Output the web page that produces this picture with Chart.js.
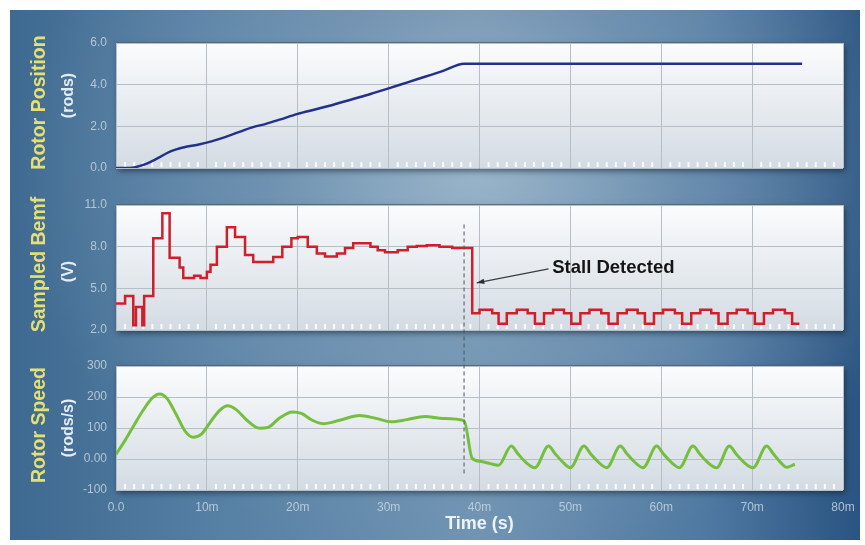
<!DOCTYPE html>
<html>
<head>
<meta charset="utf-8">
<script src="https://cdn.jsdelivr.net/npm/chart.js@4.4.0/dist/chart.umd.min.js"></script>
<style>
    html, body { margin: 0; padding: 0; background: #ffffff; }
    #wrap { position: relative; width: 865px; height: 545px; overflow: hidden; }
    #frame {
        position: absolute; left: 10px; top: 10px; width: 850px; height: 530px;
        background:
            radial-gradient(ellipse 55% 75% at 55% 30%, rgba(160,186,205,0.85) 0%, rgba(130,160,186,0.5) 45%, rgba(90,125,160,0) 100%),
            linear-gradient(90deg, #3e6990 0%, #5680a4 25%, #6f93b2 55%, #4f79a1 82%, #2a5481 100%);
    }
    canvas { position: absolute; left: 0; top: 0; }
</style>
</head>
<body>
<div id="wrap">
    <div id="frame"></div>
    <canvas id="posChart" width="865" height="545"></canvas>
    <canvas id="speedChart" width="865" height="545"></canvas>
    <canvas id="bemfChart" width="865" height="545"></canvas>
</div>
<script>
// 데이터
const timeTicks = [0, 10, 20, 30, 40, 50, 60, 70, 80];

const posTime  = [0, 1.5, 3, 4.5, 6, 7.5, 9, 10.5, 12, 13.5, 15, 16.5, 18, 20, 22, 24, 26, 28, 30, 32, 34, 36, 38.3, 75.5];
const posValue = [0, 0, 0.15, 0.45, 0.8, 1.0, 1.12, 1.28, 1.48, 1.72, 1.95, 2.12, 2.32, 2.6, 2.82, 3.05, 3.3, 3.55, 3.82, 4.1, 4.38, 4.66, 5.0, 5.0];
const posTicks = [0, 2, 4, 6];

const bemfTime  = [0, 1.0, 1.9, 2.2, 2.9, 3.1, 4.1, 5.1, 5.9, 7.0, 7.4, 8.6, 9.3, 10.0, 10.4, 11.1, 12.2, 13.1, 14.2, 15.1,
                   17.3, 18.3, 19.3, 20.0, 21.1, 22.1, 23.0, 24.3, 25.2, 26.1, 28.0, 28.8, 29.6, 31.0, 32.1, 33.1, 34.2, 35.6, 37.0,
                   39.2, 40.0, 41.4, 42.1, 43.0, 44.1, 45.3, 46.1, 47.1, 48.1, 49.3, 50.1, 51.1, 52.1, 53.4, 54.2, 55.2, 56.2, 57.4,
                   58.2, 59.2, 60.2, 61.5, 62.3, 63.3, 64.3, 65.5, 66.3, 67.3, 68.3, 69.5, 70.3, 71.3, 72.3, 73.6, 74.4, 75.2];
const bemfValue = [3.9, 4.45, 2.35, 3.65, 2.35, 4.45, 8.6, 10.4, 7.2, 6.5, 5.75, 5.9, 5.75, 6.2, 6.7, 8.0, 9.4, 8.7, 7.4, 6.9,
                   7.25, 8.0, 8.6, 8.7, 8.0, 7.5, 7.3, 7.5, 7.9, 8.25, 8.0, 7.75, 7.6, 7.75, 8.0, 8.05, 8.1, 8.0, 7.9,
                   3.2, 3.45, 3.2, 2.45, 3.2, 3.45, 3.2, 2.45, 3.2, 3.45, 3.2, 2.45, 3.2, 3.45, 3.2, 2.45, 3.2, 3.45, 3.2,
                   2.45, 3.2, 3.45, 3.2, 2.45, 3.2, 3.45, 3.2, 2.45, 3.2, 3.45, 3.2, 2.45, 3.2, 3.45, 3.2, 2.45, 2.45];
const bemfTicks = [2, 5, 8, 11];

const speedTime  = [0, 1, 2, 3, 4, 4.8, 5.6, 6.6, 7.6, 8.5, 9.4, 10.4, 11.4, 12.3, 13.2, 14.4, 15.8, 16.8, 18, 19.4,
                    20.4, 21.6, 22.8, 24.6, 26.8, 28.6, 30.3, 32, 34, 36, 38.3, 39.2, 40.2, 41.2, 42.1,
                    43.5, 44.2, 45, 46.1, 47.6, 48.3, 49.1, 50, 51.5, 52.2, 53, 54, 55.5, 56.2, 57, 58,
                    59.5, 60.2, 61, 62, 63.5, 64.2, 65, 66.1, 67.5, 68.2, 69, 70.1, 71.6, 72.3, 73.1, 73.8, 74.7];
const speedValue = [15, 60, 110, 158, 197, 210, 196, 145, 90, 70, 80, 120, 157, 172, 160, 125, 99, 103, 132, 152,
                    147, 125, 114, 125, 140, 131, 120, 127, 137, 131, 124, 2, -8, -15, -20,
                    42, 18, -8, -28, 42, 18, -8, -28, 42, 18, -8, -28, 42, 18, -8, -28,
                    42, 18, -8, -28, 42, 18, -8, -28, 42, 18, -8, -28, 42, 18, -10, -27, -17];
const speedTicks = [-100, 0, 100, 200, 300];

// 정지 검출 표시
const stallTime = 38.3;
const stallLabel = 'Stall Detected';
const stallLabelAt = { x: 48.0, y: 6.46 };
const stallArrowFrom = { x: 47.6, y: 6.4 };
const stallArrowTo = { x: 39.7, y: 5.4 };
const stallLineTop = 9.6;     // bemf 축 값
const stallLineBottom = -55;  // speed 축 값

const FONT = "'Liberation Sans', Arial, sans-serif";
const tickColor = 'rgba(205,217,229,0.8)';
const gridColor = '#b6bec6';

const toPoints = (xs, ys) => xs.map((x, i) => ({ x: x, y: ys[i] }));

const plotBg = {
    id: 'plotBg',
    beforeDraw(chart) {
        const { ctx, chartArea: a } = chart;
        ctx.save();
        ctx.shadowColor = 'rgba(10,25,45,0.6)';
        ctx.shadowBlur = 6;
        ctx.shadowOffsetX = 2;
        ctx.shadowOffsetY = 3;
        const g = ctx.createLinearGradient(0, a.top, 0, a.bottom);
        g.addColorStop(0, '#fbfcfd');
        g.addColorStop(0.45, '#e9edf1');
        g.addColorStop(1, '#d3dbe3');
        ctx.fillStyle = g;
        ctx.fillRect(a.left, a.top, a.right - a.left, a.bottom - a.top);
        ctx.restore();
        ctx.save();
        ctx.strokeStyle = '#56616c';
        ctx.lineWidth = 1.5;
        ctx.beginPath();
        ctx.moveTo(a.left, a.top);
        ctx.lineTo(a.right, a.top);
        ctx.stroke();
        ctx.restore();
    },
    beforeDatasetsDraw(chart) {
        // 아래쪽 보조 눈금
        const { ctx, chartArea: a, scales: { x } } = chart;
        ctx.save();
        ctx.strokeStyle = 'rgba(255,255,255,0.9)';
        ctx.lineWidth = 2;
        for (let t = 1; t < 80; t++) {
            if (t % 10 === 0) continue;
            const px = x.getPixelForValue(t);
            ctx.beginPath();
            ctx.moveTo(px, a.bottom - 1);
            ctx.lineTo(px, a.bottom - 6);
            ctx.stroke();
        }
        ctx.restore();
    }
};

const panelTitle = {
    id: 'panelTitle',
    afterDraw(chart, args, opts) {
        const { ctx, chartArea: a } = chart;
        const cy = (a.top + a.bottom) / 2;
        ctx.save();
        ctx.textAlign = 'center';
        ctx.textBaseline = 'middle';
        ctx.translate(40, cy - 3);
        ctx.rotate(-Math.PI / 2);
        ctx.fillStyle = '#e6df72';
        ctx.font = `bold 19.5px ${FONT}`;
        ctx.fillText(opts.main, 0, 0);
        ctx.restore();
        ctx.save();
        ctx.textAlign = 'center';
        ctx.textBaseline = 'middle';
        ctx.translate(69, cy + (opts.unitShift || 0));
        ctx.rotate(-Math.PI / 2);
        ctx.fillStyle = '#e4ecf3';
        ctx.font = `bold 16px ${FONT}`;
        ctx.fillText(opts.unit, 0, 0);
        ctx.restore();
    }
};

let speedChart = null;

const stallMarker = {
    id: 'stallMarker',
    afterDraw(chart) {
        const { ctx, scales: { x, y } } = chart;
        const px = x.getPixelForValue(stallTime);
        const top = y.getPixelForValue(stallLineTop);
        const bottom = speedChart ? speedChart.scales.y.getPixelForValue(stallLineBottom) : chart.chartArea.bottom;
        ctx.save();
        ctx.strokeStyle = '#4b5560';
        ctx.lineWidth = 1;
        ctx.setLineDash([4, 3]);
        ctx.beginPath();
        ctx.moveTo(px, top);
        ctx.lineTo(px, bottom);
        ctx.stroke();
        ctx.setLineDash([]);

        // 화살표
        const x1 = x.getPixelForValue(stallArrowFrom.x), y1 = y.getPixelForValue(stallArrowFrom.y);
        const x2 = x.getPixelForValue(stallArrowTo.x), y2 = y.getPixelForValue(stallArrowTo.y);
        ctx.strokeStyle = '#3a3f45';
        ctx.lineWidth = 1.3;
        ctx.beginPath();
        ctx.moveTo(x1, y1);
        ctx.lineTo(x2, y2);
        ctx.stroke();
        const ang = Math.atan2(y2 - y1, x2 - x1);
        ctx.fillStyle = '#2c3035';
        ctx.beginPath();
        ctx.moveTo(x2, y2);
        ctx.lineTo(x2 - 8 * Math.cos(ang - 0.35), y2 - 8 * Math.sin(ang - 0.35));
        ctx.lineTo(x2 - 8 * Math.cos(ang + 0.35), y2 - 8 * Math.sin(ang + 0.35));
        ctx.closePath();
        ctx.fill();

        ctx.fillStyle = '#151515';
        ctx.font = `bold 18.5px ${FONT}`;
        ctx.textAlign = 'left';
        ctx.textBaseline = 'middle';
        ctx.fillText(stallLabel, x.getPixelForValue(stallLabelAt.x), y.getPixelForValue(stallLabelAt.y));
        ctx.restore();
    }
};

function makeChart(canvasId, cfg) {
    const ctx = document.getElementById(canvasId).getContext('2d');
    return new Chart(ctx, {
        type: 'line',
        data: {
            datasets: [{
                data: toPoints(cfg.xs, cfg.ys),
                borderColor: cfg.color,
                borderWidth: cfg.width,
                pointRadius: 0,
                fill: false,
                stepped: cfg.stepped || false,
                cubicInterpolationMode: cfg.stepped ? 'default' : 'monotone'
            }]
        },
        options: {
            responsive: false,
            animation: false,
            events: [],
            layout: { padding: { left: 0, right: 22, top: cfg.top, bottom: cfg.bottom } },
            plugins: {
                legend: { display: false },
                tooltip: { enabled: false },
                panelTitle: { main: cfg.title, unit: cfg.unit, unitShift: cfg.unitShift }
            },
            scales: {
                x: {
                    type: 'linear',
                    min: 0, max: 80,
                    afterBuildTicks: s => { s.ticks = timeTicks.map(v => ({ value: v })); },
                    afterFit: s => { s.height = cfg.showX ? 55 : 0; },
                    grid: { color: gridColor, drawTicks: false },
                    border: { display: false },
                    ticks: {
                        display: !!cfg.showX,
                        padding: 10,
                        color: tickColor,
                        font: { family: FONT, size: 12 },
                        maxRotation: 0,
                        callback: v => v === 0 ? '0.0' : v + 'm'
                    },
                    title: {
                        display: !!cfg.showX,
                        text: 'Time (s)',
                        color: '#eef3f7',
                        font: { family: FONT, size: 18, weight: 'bold' },
                        padding: { top: 0, bottom: 10 }
                    }
                },
                y: {
                    type: 'linear',
                    min: cfg.yTicks[0], max: cfg.yTicks[cfg.yTicks.length - 1],
                    afterBuildTicks: s => { s.ticks = cfg.yTicks.map(v => ({ value: v })); },
                    afterFit: s => { s.width = 116; },
                    grid: { color: gridColor, drawTicks: false },
                    border: { display: false },
                    ticks: {
                        padding: 9,
                        color: tickColor,
                        font: { family: FONT, size: 12 },
                        callback: cfg.yFmt
                    }
                }
            }
        },
        plugins: cfg.plugins
    });
}

const posChart = makeChart('posChart', {
    xs: posTime, ys: posValue, color: '#23318a', width: 2.5,
    top: 43, bottom: 377, yTicks: posTicks,
    yFmt: v => v.toFixed(1),
    title: 'Rotor Position', unit: '(rods)', unitShift: -10,
    plugins: [plotBg, panelTitle]
});

speedChart = makeChart('speedChart', {
    xs: speedTime, ys: speedValue, color: '#74bf3e', width: 3,
    top: 366, bottom: 0, yTicks: speedTicks, showX: true,
    yFmt: v => v === 0 ? '0.00' : String(v),
    title: 'Rotor Speed', unit: '(rods/s)',
    plugins: [plotBg, panelTitle]
});

const bemfChart = makeChart('bemfChart', {
    xs: bemfTime, ys: bemfValue, color: '#cf1f2b', width: 2.5, stepped: 'before',
    top: 205, bottom: 215, yTicks: bemfTicks,
    yFmt: v => v.toFixed(1),
    title: 'Sampled Bemf', unit: '(V)', unitShift: 4,
    plugins: [plotBg, panelTitle, stallMarker]
});
</script>
</body>
</html>
